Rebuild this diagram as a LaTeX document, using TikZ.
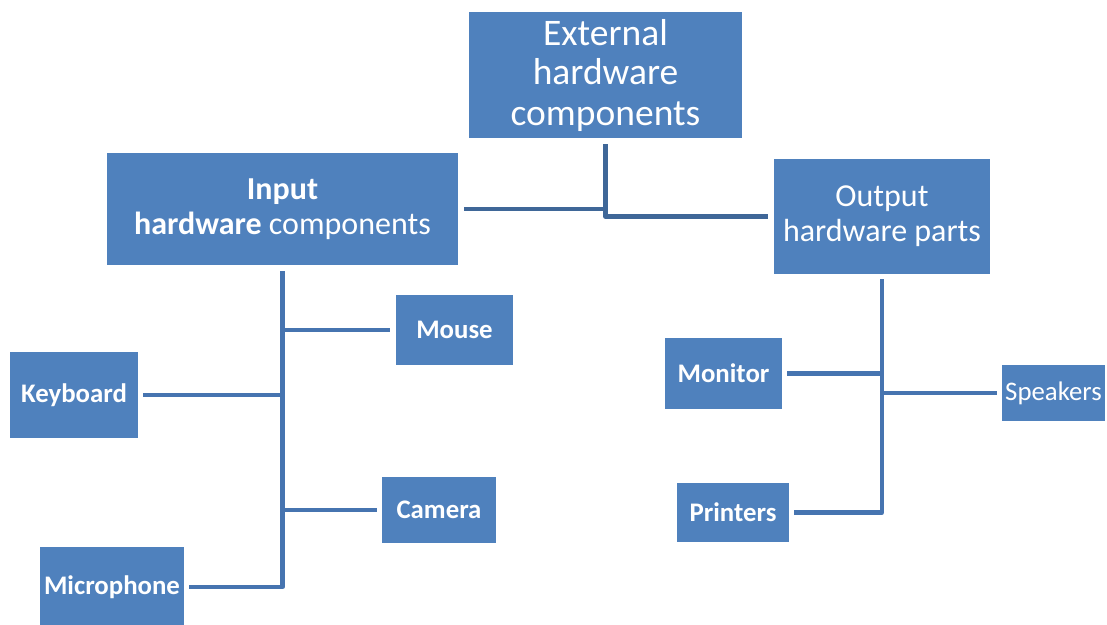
\documentclass[tikz,border=0pt]{standalone}
\usepackage{fontspec}
\setmainfont{Carlito}
\definecolor{boxblue}{HTML}{4F81BD}
\definecolor{linedark}{HTML}{3F6798}
\definecolor{lineblue}{HTML}{4674B0}
\begin{document}
\begin{tikzpicture}[x=1pt,y=-1pt,
  box/.style={fill=boxblue,draw=none,inner sep=0pt,text=white,align=center,anchor=center},
  conn/.style={draw=lineblue,line width=4.3pt,line cap=butt,line join=round},
  topconn/.style={draw=linedark,line width=4.3pt,line cap=butt,line join=round},
  big/.style={font=\fontsize{37.5}{40}\selectfont},
  mid/.style={font=\fontsize{32}{35}\selectfont},
  small/.style={font=\fontsize{26.8}{30}\selectfont\bfseries},
  smallr/.style={font=\fontsize{26.8}{30}\selectfont}]
\useasboundingbox (0,0) rectangle (1107,624);
\clip (0,0) rectangle (1107,624);
\fill[white] (0,0) rectangle (1107,624);
% boxes
\node[box,big,minimum width=273pt,minimum height=126pt] (ext) at (605.5,75) {External\\hardware\\components};
\node[box,mid,minimum width=351pt,minimum height=112pt] (inp) at (282.5,209) {\textbf{Input}\\\textbf{hardware} components};
\node[box,mid,minimum width=216pt,minimum height=115pt] (out) at (882,216.5) {Output\\hardware parts};
\node[box,small,minimum width=117pt,minimum height=70pt] (ms) at (454.5,330) {Mouse};
\node[box,small,minimum width=128pt,minimum height=86pt] (kb) at (74,395) {Keyboard};
\node[box,small,minimum width=114pt,minimum height=66pt] (cam) at (439,510) {Camera};
\node[box,small,minimum width=144pt,minimum height=80pt] (mic) at (112,587) {Microphone};
\node[box,small,minimum width=117pt,minimum height=71pt] (mon) at (723.5,373.5) {Monitor};
\node[box,smallr,minimum width=103pt,minimum height=56pt] (spk) at (1053.5,393) {Speakers};
\node[box,small,minimum width=112pt,minimum height=59pt] (prn) at (733,512.5) {Printers};
% top connectors
\draw[topconn] ([yshift=-6pt]ext.south) |- ([xshift=-6pt]out.west);
\draw[topconn] ([xshift=6pt]inp.east) -- (inp.east -| ext.south);
% input bus
\coordinate (ib) at (inp.south |- mic.east);
\draw[conn] ([yshift=-6pt]inp.south) -- (ib) -- ([xshift=5pt]mic.east);
\draw[conn] ([xshift=5pt]kb.east) -- (kb.east -| ib);
\draw[conn] (ms.west -| ib) -- ([xshift=-6pt]ms.west);
\draw[conn] (cam.west -| ib) -- ([xshift=-5pt]cam.west);
% output bus
\coordinate (ob) at (out.south |- prn.east);
\draw[conn] ([yshift=-5pt]out.south) -- (ob) -- ([xshift=5pt]prn.east);
\draw[conn] ([xshift=5pt]mon.east) -- (mon.east -| ob);
\draw[conn] (spk.west -| ob) -- ([xshift=-5pt]spk.west);
\end{tikzpicture}
\end{document}
